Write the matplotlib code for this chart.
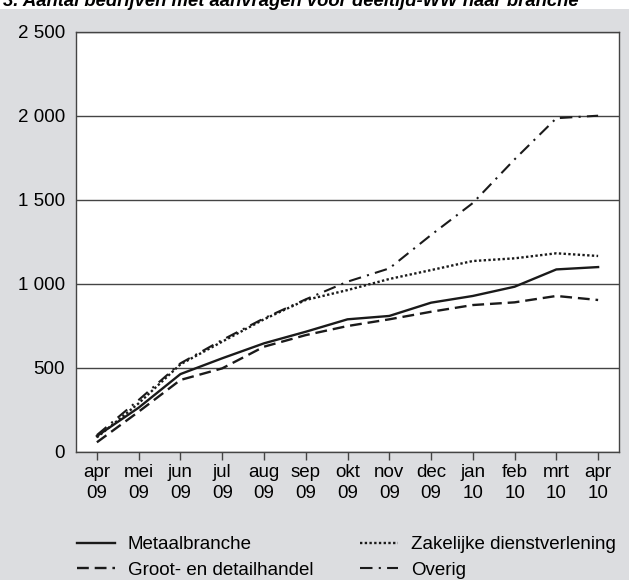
import matplotlib
matplotlib.use("Agg")
import matplotlib.pyplot as plt
from matplotlib.patches import Rectangle
from matplotlib.ticker import FuncFormatter

plt.rcParams['font.family'] = ['Liberation Sans', 'DejaVu Sans']

# maanden (x-as)
maanden = ['apr\n09', 'mei\n09', 'jun\n09', 'jul\n09', 'aug\n09', 'sep\n09', 'okt\n09',
           'nov\n09', 'dec\n09', 'jan\n10', 'feb\n10', 'mrt\n10', 'apr\n10']

metaal = [93, 262, 462, 556, 645, 714, 788, 808, 887, 927, 982, 1085, 1099]
groot_detail = [56, 238, 427, 496, 625, 694, 748, 788, 833, 873, 889, 927, 903]
zakelijk = [85, 288, 520, 655, 788, 903, 962, 1028, 1081, 1135, 1151, 1181, 1165]
overig = [99, 308, 526, 665, 794, 907, 1012, 1091, 1290, 1480, 1740, 1985, 2000]

fs = 13.5

fig = plt.figure(figsize=(6.29, 5.8), dpi=100)
fig.patches.append(Rectangle((0, 0), 1, 1 - 9 / 580, transform=fig.transFigure,
                             facecolor='#dcdde0', edgecolor='none', zorder=-10))

# titel valt deels buiten de uitsnede
fig.text(0.004, 1 - 5.5 / 580, '3. Aantal bedrijven met aanvragen voor deeltijd-WW naar branche',
         fontsize=13.3, fontweight='bold', style='italic', va='baseline', ha='left')

ax = fig.add_axes([76 / 629, 1 - 451.7 / 580, (619 - 76) / 629, 420 / 580])
ax.set_facecolor('white')

x = range(len(maanden))
ax.plot(x, metaal, color='#1a1a1a', lw=1.7, ls='-', label='Metaalbranche')
ax.plot(x, groot_detail, color='#1a1a1a', lw=1.7, ls=(0, (5, 2.5)), label='Groot- en detailhandel')
ax.plot(x, zakelijk, color='#1a1a1a', lw=1.7, ls=(0, (1, 1)), label='Zakelijke dienstverlening')
ax.plot(x, overig, color='#1a1a1a', lw=1.5, ls=(0, (6, 3, 1, 3)), label='Overig')

ax.set_xlim(-0.5, 12.5)
ax.set_ylim(0, 2500)
ax.set_yticks([0, 500, 1000, 1500, 2000, 2500])
ax.yaxis.set_major_formatter(FuncFormatter(lambda v, p: f'{int(v):,}'.replace(',', ' ')))
ax.set_xticks(list(x))
ax.set_xticklabels(maanden, linespacing=1.3)
ax.tick_params(axis='x', length=6, width=1, direction='out', labelsize=fs, pad=3, color='#444444')
ax.tick_params(axis='y', length=0, labelsize=fs, pad=8)
ax.grid(axis='y', color='#444444', lw=1)
ax.set_axisbelow(True)
for s in ax.spines.values():
    s.set_color('#444444')
    s.set_linewidth(1)

fig.legend(loc='upper left', bbox_to_anchor=(77 / 629, 1 - 536 / 580), ncol=2, frameon=False,
           fontsize=fs, handlelength=2.0, columnspacing=2.5, labelspacing=0.45,
           handletextpad=0.7, borderpad=0, borderaxespad=0)

fig.savefig('out.png', dpi=100)
